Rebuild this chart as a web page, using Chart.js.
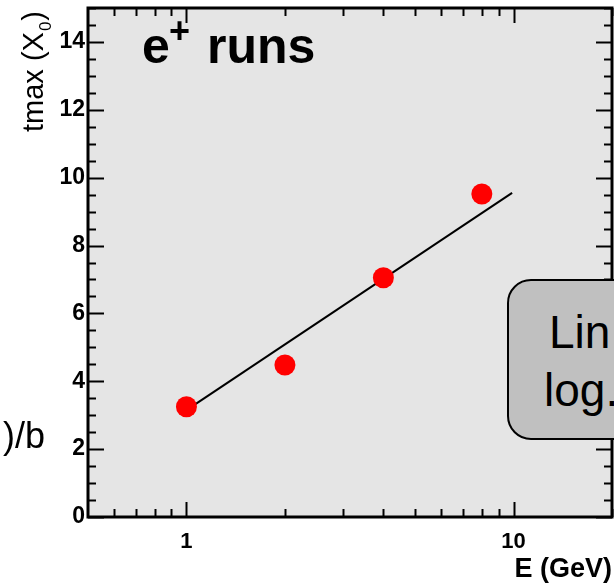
<!DOCTYPE html>
<html>
<head>
<meta charset="utf-8">
<script src="https://cdn.jsdelivr.net/npm/chart.js@4.4.0/dist/chart.umd.min.js"></script>
<style>
  html, body { margin: 0; padding: 0; background: #fff; overflow: hidden; }
  #wrap { position: relative; width: 614px; height: 584px; overflow: hidden; }
  canvas { display: block; }
  .txt { position: absolute; font-family: "Liberation Sans", Arial, sans-serif; color: #000; white-space: nowrap; line-height: 1; }
  #frag { left: 3px; top: 418px; font-size: 36px; line-height: 36px; }
  #note { position: absolute; left: 507px; top: 279px; width: 220px; height: 157px;
          border: 2px solid #000; border-radius: 24px; background: #c0c0c0; }
  #note .txt { font-size: 46px; line-height: 46px; }
</style>
</head>
<body>
<div id="wrap">
  <canvas id="tmaxChart" width="614" height="584"></canvas>
  <div class="txt" id="frag">)/b</div>
  <div id="note">
    <div class="txt" style="left:40px; top:28px;">Lin</div>
    <div class="txt" style="left:35px; top:86px;">log.</div>
  </div>
</div>
<script>
// Measured shower maximum vs beam energy
const energies = [1, 2, 4, 8];            // GeV
const tmaxValues = [3.25, 4.48, 7.05, 9.52]; // X0

// Fitted line endpoints (a + b ln E)
const fitEnergies = [1, 9.9];
const fitTmax = [3.15, 9.55];

// Axis ticks
const xTickValues = [1, 10];
const xTickLabels = ['1', '10'];
const xMinorTicks = [0.6, 0.7, 0.8, 0.9, 2, 3, 4, 5, 6, 7, 8, 9, 20];
const yTickValues = [0, 2, 4, 6, 8, 10, 12, 14];
const yTickLabels = ['0', '2', '4', '6', '8', '10', '12', '14'];

const FONT = '"Liberation Sans", Arial, sans-serif';

// fixed axis sizes, no extra label padding around the plot
function fixPadding(s) {
    s.paddingLeft = 0;
    s.paddingRight = 0;
    s.paddingTop = 0;
    s.paddingBottom = 0;
}

// ROOT-style frame: grey pad, thick border, inward ticks on all four sides
const rootFrame = {
    id: 'rootFrame',
    beforeDraw(chart) {
        const { ctx, chartArea: a } = chart;
        ctx.save();
        ctx.fillStyle = '#ffffff';
        ctx.fillRect(0, 0, chart.width, chart.height);
        ctx.fillStyle = '#e5e5e5';
        ctx.fillRect(a.left, a.top, a.right - a.left, a.bottom - a.top);
        ctx.restore();
    },
    afterDatasetsDraw(chart) {
        const { ctx, chartArea: a, scales } = chart;
        const xs = scales.x, ys = scales.y;
        ctx.save();
        ctx.strokeStyle = '#000';

        ctx.lineWidth = 2;
        const tick = (x1, y1, x2, y2) => {
            ctx.beginPath();
            ctx.moveTo(x1, y1);
            ctx.lineTo(x2, y2);
            ctx.stroke();
        };
        // x ticks, bottom and top
        xTickValues.forEach(v => {
            const px = Math.round(xs.getPixelForValue(v)) + 0.5;
            tick(px, a.bottom, px, a.bottom - 15);
            tick(px, a.top, px, a.top + 15);
        });
        xMinorTicks.forEach(v => {
            const px = Math.round(xs.getPixelForValue(v)) + 0.5;
            tick(px, a.bottom, px, a.bottom - 8);
            tick(px, a.top, px, a.top + 8);
        });
        // y ticks, left and right
        for (let i = 0; i <= 30; i++) {
            const v = i * 0.5;
            const py = Math.round(ys.getPixelForValue(v)) + 0.5;
            const len = (v % 2 === 0) ? 16 : 8;
            tick(a.left, py, a.left + len, py);
            tick(a.right, py, a.right - len, py);
        }

        ctx.lineWidth = 3;
        ctx.strokeRect(a.left, a.top, a.right - a.left, a.bottom - a.top);
        ctx.restore();
    },
    afterDraw(chart) {
        const { ctx } = chart;
        ctx.save();
        ctx.fillStyle = '#000';
        ctx.textBaseline = 'alphabetic';

        // title: e+ runs
        ctx.font = 'bold 50px ' + FONT;
        ctx.fillText('e', 142, 63);
        ctx.fillText('runs', 207, 63);
        ctx.font = 'bold 36px ' + FONT;
        ctx.fillText('+', 169, 43);

        // x axis title
        ctx.font = 'bold 27px ' + FONT;
        ctx.textAlign = 'right';
        ctx.fillText('E (GeV)', 612, 577);

        // y axis title, rotated, with subscript
        ctx.translate(43, 132);
        ctx.rotate(-Math.PI / 2);
        ctx.textAlign = 'left';
        ctx.font = '29px ' + FONT;
        const main = 'tmax (X';
        ctx.fillText(main, 0, 0);
        let w = ctx.measureText(main).width;
        ctx.font = '17px ' + FONT;
        ctx.fillText('0', w + 1, 8);
        w += ctx.measureText('0').width + 2;
        ctx.font = '29px ' + FONT;
        ctx.fillText(')', w, 0);
        ctx.restore();
    }
};

const ctx = document.getElementById('tmaxChart').getContext('2d');
const tmaxChart = new Chart(ctx, {
    type: 'scatter',
    data: {
        datasets: [{
            type: 'line',
            data: fitEnergies.map((e, i) => ({ x: e, y: fitTmax[i] })),
            borderColor: '#000',
            borderWidth: 2,
            pointRadius: 0,
            fill: false,
            order: 2
        }, {
            data: energies.map((e, i) => ({ x: e, y: tmaxValues[i] })),
            backgroundColor: '#ff0000',
            borderWidth: 0,
            pointRadius: 10.5,
            order: 1
        }]
    },
    options: {
        responsive: false,
        animation: false,
        devicePixelRatio: 1,
        layout: { autoPadding: false, padding: { top: 8, right: 2, left: 0, bottom: 0 } },
        plugins: { legend: { display: false }, tooltip: { enabled: false } },
        scales: {
            x: {
                type: 'logarithmic',
                min: 0.5,
                max: 20,
                grid: { display: false, drawTicks: false },
                border: { display: false },
                afterBuildTicks: s => { s.ticks = xTickValues.map(v => ({ value: v })); },
                afterFit: s => { s.height = 67; fixPadding(s); },
                ticks: {
                    autoSkip: false,
                    maxRotation: 0,
                    padding: 12,
                    color: '#000',
                    font: { family: FONT, size: 22, weight: 'bold' },
                    callback: (v, i) => xTickLabels[i]
                }
            },
            y: {
                min: 0,
                max: 15,
                grid: { display: false, drawTicks: false },
                border: { display: false },
                afterBuildTicks: s => { s.ticks = yTickValues.map(v => ({ value: v })); },
                afterFit: s => { s.width = 88; fixPadding(s); },
                ticks: {
                    autoSkip: false,
                    padding: 3,
                    color: '#000',
                    font: { family: FONT, size: 23, weight: 'bold' },
                    callback: (v, i) => yTickLabels[i]
                }
            }
        }
    },
    plugins: [rootFrame]
});
</script>
</body>
</html>
